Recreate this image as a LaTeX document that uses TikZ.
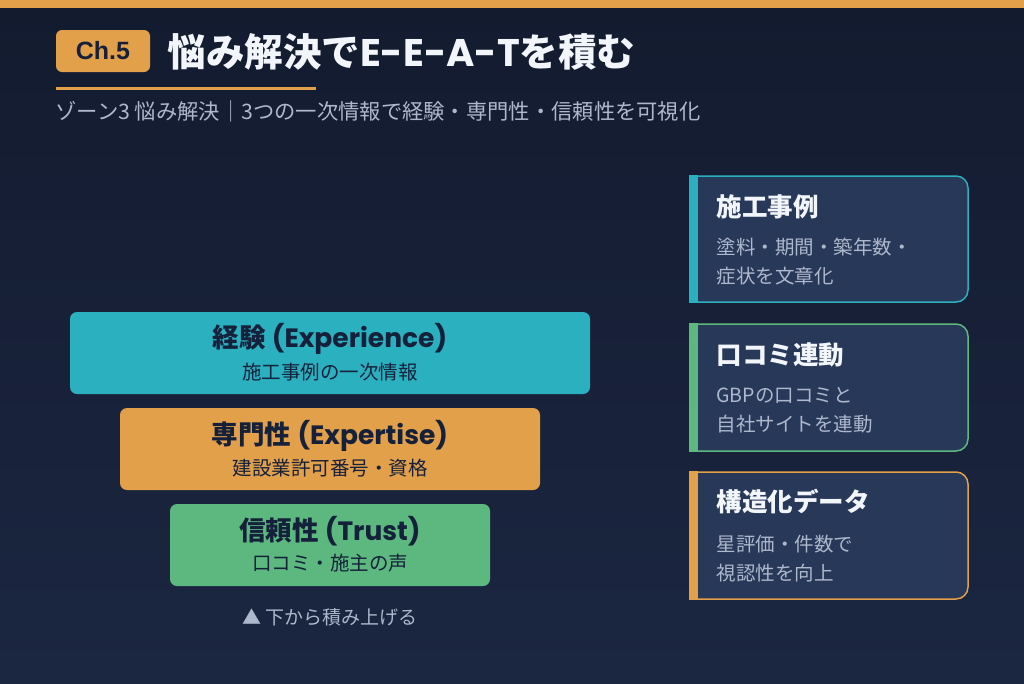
\documentclass[tikz,border=0pt]{standalone}
\usepackage{fontspec}
\setmainfont{Noto Sans CJK JP}
\newfontfamily\latinfont{Poppins}
\newfontfamily\badgefont{Liberation Sans}
\usepackage{tikz}
\usetikzlibrary{positioning}

\definecolor{bgtop}{HTML}{131B2F}
\definecolor{bgbot}{HTML}{1B2641}
\definecolor{accent}{HTML}{E3A04A}
\definecolor{tealbox}{HTML}{2BB0BF}
\definecolor{greenbox}{HTML}{5DB87F}
\definecolor{cardfill}{HTML}{283859}
\definecolor{inkdark}{HTML}{15203A}
\definecolor{inkwhite}{HTML}{F2F5FA}
\definecolor{inkgray}{HTML}{AEB8CC}

\begin{document}
\begin{tikzpicture}[x=1pt,y=-1pt,
  layer/.style={rounded corners=7pt, minimum height=82pt, inner sep=0pt},
  layerhead/.style={font=\bfseries\fontsize{26.5}{30}\selectfont, text=inkdark},
  layersub/.style={font=\fontsize{19.5}{22}\selectfont, text=inkdark},
  cardhead/.style={anchor=west, font=\bfseries\fontsize{25.5}{29}\selectfont, text=inkwhite},
  cardline/.style={anchor=west, font=\fontsize{19.5}{22}\selectfont, text=inkgray}]
\useasboundingbox (0,0) rectangle (1024,683);
\shade[top color=bgtop, bottom color=bgbot] (0,0) rectangle (1024,683);
\fill[accent] (0,0) rectangle (1024,8);

% heading
\node[fill=accent, rounded corners=6pt, minimum width=94pt, minimum height=42pt,
  font=\badgefont\bfseries\fontsize{25}{28}\selectfont, text=inkdark] (chap) at (103,51) {Ch.5};
\node[anchor=west, font=\bfseries\fontsize{38.5}{42}\selectfont, text=inkwhite] (title) at (164,52)
  {悩み解決で{\latinfont E-E-A-T}を積む};
\fill[accent] (56,87) rectangle (316,90);
\node[anchor=west, font=\fontsize{21.3}{24}\selectfont, text=inkgray] (zone) at (52,111) {ゾーン3 悩み解決｜3つの一次情報で経験・専門性・信頼性を可視化};

% pyramid
\node[layer, fill=tealbox, minimum width=520pt] (exp) at (330,353) {};
\node[layerhead] (exphead) at (330,339) {経験 {\latinfont(Experience)}};
\node[layersub] (expsub) at (330,372) {施工事例の一次情報};
\node[layer, fill=accent, minimum width=420pt] (pro) at (330,449) {};
\node[layerhead] (prohead) at (330,436) {専門性 {\latinfont(Expertise)}};
\node[layersub] (prosub) at (330,468) {建設業許可番号・資格};
\node[layer, fill=greenbox, minimum width=320pt] (trust) at (330,545) {};
\node[layerhead] (trusthead) at (330,531) {信頼性 {\latinfont(Trust)}};
\node[layersub] (trustsub) at (330,563) {口コミ・施主の声};
\node[font=\fontsize{19}{22}\selectfont, text=inkgray] (stack) at (330,617) {▲ 下から積み上げる};

% cards
\filldraw[fill=cardfill, draw=tealbox, line width=1.5pt] (690,176) -- (956,176)
  arc[start angle=-90, end angle=0, radius=12] -- (968,290)
  arc[start angle=0, end angle=90, radius=12] -- (690,302) -- cycle;
\fill[tealbox] (689,175.25) rectangle (698,302.75);
\node[cardhead] (casehead) at (713,207) {施工事例};
\node[cardline] (caseline1) at (713,247) {塗料・期間・築年数・};
\node[cardline] (caseline2) at (713,276) {症状を文章化};

\filldraw[fill=cardfill, draw=greenbox, line width=1.5pt] (690,324) -- (956,324)
  arc[start angle=-90, end angle=0, radius=12] -- (968,439)
  arc[start angle=0, end angle=90, radius=12] -- (690,451) -- cycle;
\fill[greenbox] (689,323.25) rectangle (698,451.75);
\node[cardhead] (revhead) at (713,355) {口コミ連動};
\node[cardline] (revline1) at (713,395) {GBPの口コミと};
\node[cardline] (revline2) at (713,424) {自社サイトを連動};

\filldraw[fill=cardfill, draw=accent, line width=1.5pt] (690,472) -- (956,472)
  arc[start angle=-90, end angle=0, radius=12] -- (968,587)
  arc[start angle=0, end angle=90, radius=12] -- (690,599) -- cycle;
\fill[accent] (689,471.25) rectangle (698,599.75);
\node[cardhead] (datahead) at (713,502) {構造化データ};
\node[cardline] (dataline1) at (713,544) {星評価・件数で};
\node[cardline] (dataline2) at (713,573) {視認性を向上};
\end{tikzpicture}
\end{document}
